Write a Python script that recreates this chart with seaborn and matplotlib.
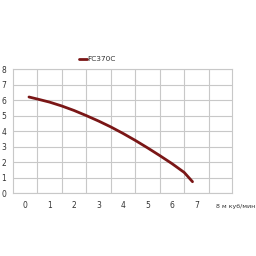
import matplotlib
matplotlib.use("Agg")
import matplotlib.pyplot as plt
import seaborn as sns
import pandas as pd

flow = [0.16, 0.5, 1.0, 1.5, 2.0, 2.5, 3.0, 3.5, 4.0, 4.5, 5.0, 5.5, 6.0, 6.5, 6.84]
head = [6.2, 6.07, 5.87, 5.62, 5.33, 5.0, 4.65, 4.27, 3.85, 3.4, 2.92, 2.42, 1.9, 1.33, 0.73]
series_name = "FC370C"
x_ticks = [0, 1, 2, 3, 4, 5, 6, 7]
y_ticks = [0, 1, 2, 3, 4, 5, 6, 7, 8]
x_unit_label = "8 м куб/мин"

df = pd.DataFrame({"flow": flow, "head": head, "series": series_name})

sns.set_style("white")
plt.rcParams["font.family"] = ["DejaVu Sans"]

fig = plt.figure(figsize=(2.56, 2.56), dpi=100)
ax = fig.add_axes([0.051, 0.246, 0.855, 0.484])

sns.lineplot(data=df, x="flow", y="head", hue="series", palette=["#7a1616"],
             linewidth=2.0, ax=ax, legend=True)

ax.set_xlim(-0.49, 8.45)
ax.set_ylim(0, 8)
ax.set_xticks(x_ticks)
ax.set_xticklabels([str(t) for t in x_ticks])
ax.set_yticks(y_ticks)
ax.set_yticklabels([str(t) for t in y_ticks])
ax.set_xticks([t + 0.5 for t in x_ticks], minor=True)
ax.grid(False)
ax.grid(True, which="minor", axis="x", color="#c8c8c8", linewidth=0.8)
ax.grid(True, which="major", axis="y", color="#c8c8c8", linewidth=0.8)
ax.tick_params(axis="both", which="both", length=0, labelsize=5.5, colors="#333333")
ax.tick_params(axis="x", pad=6)
ax.tick_params(axis="y", pad=5)
ax.set_xlabel("")
ax.set_ylabel("")
for s in ax.spines.values():
    s.set_color("#c8c8c8")
    s.set_linewidth(0.8)
ax.text(7.78, -0.72, x_unit_label, ha="left", va="top",
        fontsize=4.5, color="#333333")

leg = ax.legend(loc="lower left", bbox_to_anchor=(0.30, 1.055), frameon=False,
                fontsize=5.3, handlelength=1.1, handletextpad=0.1,
                borderaxespad=0, borderpad=0)
for t in leg.get_texts():
    t.set_color("#333333")

fig.savefig("out.png", dpi=100, facecolor="white")
